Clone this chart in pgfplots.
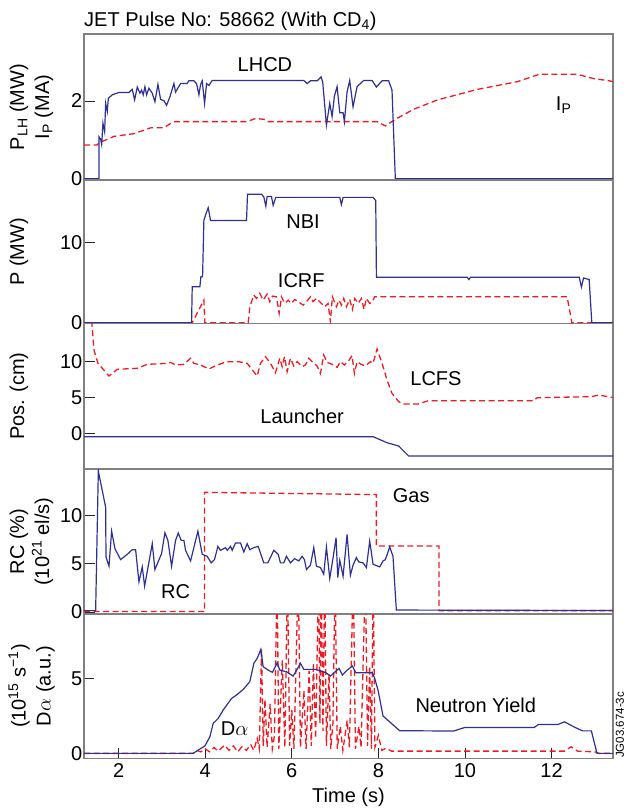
\documentclass[border=0pt]{standalone}
\usepackage{fontspec}
\setmainfont{Liberation Sans}
\usepackage{pgfplots}
\pgfplotsset{compat=1.18}
\definecolor{nblue}{RGB}{46,49,146}
\definecolor{nred}{RGB}{237,28,36}
\pgfplotsset{
 panel/.style={scale only axis, width=529pt, xmin=1.2, xmax=13.42, anchor=north west,
   axis line style={draw=black!50, line width=1.1pt}, tick align=inside, tick pos=left,
   xtick=\empty, major tick length=11pt, tick style={black!85, line width=0.9pt},
   /pgf/number format/assume math mode=true, yticklabel style={inner xsep=1.5pt},
   ylabel style={at={(axis description cs:-0.1229,0.5)}, anchor=center, align=center}},
 two/.style={ylabel style={at={(axis description cs:-0.0992,0.5)}}},
 bl/.style={nblue, line width=1.2pt},
 rd/.style={nred, line width=1.3pt, dash pattern=on 6pt off 3.5pt},
}
\begin{document}
\begin{tikzpicture}[font=\fontsize{20}{25}\selectfont]
\path[use as bounding box] (0pt,0pt) rectangle (625pt,-810pt);
% Panel 1
\begin{axis}[panel, two, at={(84pt,-34pt)}, height=146pt, ymin=-0.033, ymax=3.725, ytick={0,2},
  ylabel={P\textsubscript{LH} (MW)\\I\textsubscript{P} (MA)}]
\addplot[rd] coordinates {(1.2,0.87) (1.5,0.87) (1.546,0.92) (1.662,0.98) (1.777,1.03) (1.892,1.09) (2.354,1.16) (2.585,1.25) (2.738,1.31) (3.046,1.31) (3.238,1.45) (3.315,1.47) (4.969,1.47) (5.162,1.55) (5.354,1.53) (5.431,1.47) (7.969,1.47) (8.162,1.36) (8.392,1.53) (8.82,1.79) (9.37,2.03) (10.29,2.30) (11.22,2.50) (11.72,2.69) (12.59,2.69) (12.96,2.58) (13.33,2.52) (13.42,2.50)};
\addplot[bl] coordinates {(1.2,0) (1.546,0) (1.546,1.08) (1.585,1.01) (1.608,0.88) (1.638,1.43) (1.677,1.21) (1.70,1.94) (1.738,1.73) (1.762,2.07) (1.854,2.16) (2.008,2.22) (2.238,2.22) (2.315,2.30) (2.369,2.03) (2.431,2.36) (2.492,2.20) (2.531,2.28) (2.569,2.16) (2.608,2.37) (2.646,2.16) (2.70,2.33) (2.777,2.20) (2.838,1.98) (2.908,2.43) (2.969,2.04) (3.046,2.01) (3.108,1.89) (3.185,2.11) (3.277,2.45) (3.315,2.23) (3.431,2.45) (3.585,2.45) (3.623,2.52) (3.738,2.52) (3.80,2.45) (3.854,2.16) (3.892,2.42) (3.931,2.52) (3.985,1.94) (4.031,2.45) (4.085,2.40) (4.162,2.53) (6.277,2.53) (6.354,2.45) (6.431,2.52) (6.585,2.52) (6.677,2.62) (6.715,2.48) (6.80,1.38) (6.877,1.94) (6.931,1.60) (6.985,2.13) (7.046,2.37) (7.108,1.70) (7.185,1.70) (7.215,1.47) (7.277,2.23) (7.338,2.53) (7.415,1.85) (7.508,2.37) (7.662,2.53) (7.854,2.53) (7.954,2.36) (8.085,2.52) (8.238,2.52) (8.315,2.28) (8.392,0) (13.42,0)};
\node at (axis cs:5.38,2.93) {LHCD};
\node at (axis cs:12.28,1.9) {I\textsubscript{P}};
\end{axis}
% Panel 2
\begin{axis}[panel, at={(84pt,-180pt)}, height=143.5pt, ymin=-0.1, ymax=17.875, ytick={0,10},
  ylabel={P (MW)}]
\addplot[rd] coordinates {(1.2,0) (3.70,0) (3.969,2.83) (3.992,0) (4.992,0) (5.031,2.0) (5.123,3.46) (5.185,3.04) (5.262,3.67) (5.338,2.83) (5.431,3.58) (5.492,2.63) (5.554,3.33) (5.646,3.25) (5.708,1.17) (5.762,3.25) (5.838,2.42) (5.915,2.83) (5.992,2.42) (6.069,2.92) (6.146,2.63) (6.262,2.21) (6.338,2.63) (6.431,3.25) (6.492,2.63) (6.569,3.04) (6.685,2.42) (6.762,2.0) (6.838,2.42) (6.892,0.125) (6.938,3.25) (7.031,2.0) (7.092,2.83) (7.146,2.21) (7.2,3.04) (7.262,2.0) (7.338,2.92) (7.4,1.67) (7.454,3.04) (7.531,2.42) (7.608,3.04) (7.669,1.67) (7.723,3.04) (7.8,2.42) (7.862,2.63) (7.915,3.25) (12.36,3.25) (12.47,0) (13.42,0)};
\addplot[bl] coordinates {(1.2,0) (3.685,0) (3.70,4.5) (3.877,4.5) (3.90,5.75) (3.939,5.75) (3.969,12.8) (4.015,13.6) (4.069,14.4) (4.123,12.8) (4.954,12.8) (4.977,16.1) (5.30,16.1) (5.354,15.75) (5.40,14.6) (5.431,15.8) (5.531,15.8) (5.569,14.7) (5.631,15.7) (7.108,15.7) (7.146,14.8) (7.185,15.7) (7.877,15.7) (7.939,15.3) (7.955,5.7) (10.05,5.7) (10.09,5.4) (10.13,5.7) (12.64,5.7) (12.69,4.46) (12.74,5.6) (12.87,5.4) (12.93,0) (13.42,0)};
\node at (axis cs:6.26,12.6) {NBI};
\node at (axis cs:6.22,5.3) {ICRF};
\end{axis}
% Panel 3
\begin{axis}[panel, at={(84pt,-323.5pt)}, height=145.5pt, ymin=-4.9, ymax=15.3, ytick={0,5,10},
  ylabel={Pos. (cm)}]
\addplot[rd] coordinates {(1.36,17) (1.431,11.6) (1.523,9.77) (1.623,9.08) (1.777,8.01) (1.969,8.94) (2.431,9.08) (2.662,9.63) (3.123,9.77) (3.2,9.9) (3.315,9.54) (3.508,9.63) (3.662,10.47) (3.738,9.77) (3.892,9.54) (4.085,8.98) (4.277,9.54) (4.508,10.0) (4.777,10.0) (4.969,9.77) (5.2,8.01) (5.277,9.77) (5.392,10.7) (5.508,9.77) (5.623,8.47) (5.723,10.47) (5.777,9.31) (5.831,10.7) (5.892,8.61) (5.969,10.47) (6.046,9.4) (6.123,10.0) (6.238,9.31) (6.315,9.54) (6.392,10.47) (6.508,9.77) (6.585,9.4) (6.662,8.38) (6.738,10.93) (6.815,9.9) (6.931,9.63) (7.046,9.21) (7.123,10.0) (7.215,9.54) (7.315,10.14) (7.392,10.84) (7.446,8.38) (7.508,10.0) (7.6,9.63) (7.7,9.4) (7.815,10.0) (7.877,9.77) (7.969,11.76) (8.085,9.77) (8.2,7.46) (8.315,5.6) (8.469,4.45) (8.585,4.12) (8.92,4.12) (9.15,4.58) (11.58,4.58) (11.67,5.0) (12.91,5.14) (13.1,5.37) (13.38,5.05) (13.42,5.05)};
\addplot[bl] coordinates {(1.2,-0.41) (7.877,-0.41) (8.2,-1.25) (8.469,-1.71) (8.7,-3.1) (13.42,-3.1)};
\node at (axis cs:9.33,7.7) {LCFS};
\node at (axis cs:6.24,2.36) {Launcher};
\end{axis}
% Panel 4
\begin{axis}[panel, two, at={(84pt,-469pt)}, height=145pt, ymin=-0.21, ymax=14.82, ytick={0,5,10},
  ylabel={RC (\%)\\(10\textsuperscript{21} el/s)}]
\addplot[rd] coordinates {(1.2,0.05) (3.985,0.05) (3.985,12.4) (7.954,12.17) (7.954,6.84) (9.40,6.84) (9.40,0.14) (13.42,0.14)};
\addplot[bl] coordinates {(1.2,0.14) (1.469,0.14) (1.531,14.6) (1.70,10.86) (1.708,5.70) (1.777,4.74) (1.838,8.38) (1.915,6.56) (2.046,5.43) (2.2,5.98) (2.315,6.46) (2.392,6.46) (2.469,3.13) (2.546,4.67) (2.6,2.68) (2.777,7.08) (2.838,4.4) (2.992,6.05) (3.069,8.21) (3.138,7.42) (3.223,4.74) (3.315,7.42) (3.377,8.18) (3.446,7.42) (3.508,7.42) (3.546,6.39) (3.662,5.29) (3.831,8.38) (3.931,5.98) (4.046,5.77) (4.138,5.09) (4.215,5.43) (4.292,6.8) (4.354,6.39) (4.469,6.67) (4.508,6.39) (4.585,6.8) (4.623,6.39) (4.7,7.15) (4.815,7.15) (4.892,6.22) (4.969,7.08) (5.031,6.46) (5.123,6.67) (5.223,6.8) (5.354,5.09) (5.446,5.09) (5.585,6.39) (5.685,5.98) (5.738,5.09) (5.815,5.09) (5.877,5.77) (5.969,5.09) (6.062,5.53) (6.162,5.29) (6.238,5.77) (6.292,5.43) (6.338,4.4) (6.431,4.85) (6.508,6.67) (6.569,4.74) (6.662,4.6) (6.738,3.92) (6.8,6.74) (6.877,3.47) (6.954,5.64) (7.023,7.7) (7.062,3.57) (7.108,5.36) (7.185,3.71) (7.277,8.04) (7.354,3.81) (7.415,4.85) (7.492,5.64) (7.546,5.19) (7.646,5.09) (7.723,4.6) (7.8,7.35) (7.877,4.95) (8.031,4.67) (8.108,5.29) (8.162,5.43) (8.262,6.74) (8.338,5.77) (8.415,0.2) (13.42,0.15)};
\node at (axis cs:3.315,2.1) {RC};
\node at (axis cs:8.76,12.1) {Gas};
\end{axis}
% Panel 5
\begin{axis}[panel, two, at={(84pt,-614pt)}, height=144.3pt, ymin=-0.33, ymax=9.29, ytick={0,5},
  xtick={2,4,6,8,10,12}, major tick length=10pt,
  xticklabel style={yshift=-2pt},
  xlabel={Time (s)}, xlabel style={at={(axis description cs:0.5,0)}, anchor=base, yshift=-44pt},
  ylabel={(10\textsuperscript{15} s\textsuperscript{−1})\\D$\alpha$ (a.u.)}]
\addplot[rd] coordinates {(1.2,0) (3.72,0) (3.8,0.2) (3.9,0.1) (4.0,0.3) (4.1,0.1) (4.2,0.4) (4.3,0.15) (4.45,0.55) (4.55,0.2) (4.65,0.5) (4.75,0.1) (4.85,0.45) (4.95,0.2) (5.05,0.6) (5.12,0.2) (5.2,1.0) (5.25,0.3) (5.3,7.0) (5.34,0.5) (5.38,3.6) (5.43,0.4) (5.5,3.3) (5.55,0.3) (5.6,1.2) (5.66,12) (5.7,0.3) (5.78,6.2) (5.84,0.4) (5.9,12) (5.95,0.5) (6.0,2.9) (6.05,0.3) (6.15,12) (6.2,0.4) (6.28,4.2) (6.33,0.3) (6.4,5.5) (6.45,0.5) (6.5,6.0) (6.55,1.0) (6.62,12) (6.65,2) (6.68,12) (6.72,1.5) (6.76,12) (6.8,0.5) (6.86,5.3) (6.9,0.3) (6.95,2.0) (7.0,12) (7.05,0.3) (7.12,1.8) (7.18,0.2) (7.28,2.2) (7.33,0.4) (7.42,12) (7.47,0.3) (7.55,1.8) (7.6,0.4) (7.7,12) (7.75,0.5) (7.8,5.8) (7.84,0.3) (7.88,12) (7.92,0.4) (8.0,1.2) (8.08,0.2) (8.18,0.35) (8.3,0.15) (12.3,0.15) (12.45,0.44) (12.6,0.15) (13.0,0.1) (13.1,0) (13.42,0)};
\addplot[bl] coordinates {(1.2,0) (3.723,0) (3.838,0.22) (3.992,0.49) (4.108,1.11) (4.185,2.0) (4.3,2.33) (4.415,2.89) (4.608,3.66) (4.723,3.89) (4.877,4.26) (5.031,4.78) (5.123,6.0) (5.2,6.33) (5.285,6.93) (5.338,5.78) (5.454,5.55) (5.554,5.4) (5.662,6.04) (5.723,5.55) (5.877,5.44) (6.031,5.15) (6.123,5.6) (6.2,6.0) (6.277,5.6) (6.531,5.6) (6.646,5.51) (6.785,5.38) (6.892,5.15) (7.031,5.51) (7.092,5.66) (7.169,5.22) (7.262,5.51) (7.4,5.82) (7.477,5.38) (7.862,5.38) (7.915,5.0) (7.992,4.22) (8.108,2.49) (8.3,2.0) (8.492,1.51) (9.74,1.49) (10.0,1.73) (11.6,1.73) (11.7,1.93) (12.15,1.93) (12.3,2.1) (12.55,1.72) (12.72,1.5) (12.92,1.5) (13.05,0) (13.42,0)};
\node at (axis cs:4.68,1.67) {D$\alpha$};
\node at (axis cs:10.25,3.22) {Neutron Yield};
\end{axis}
\node[anchor=base west, inner sep=0pt] at (84pt,-26.7pt) {JET Pulse No: 58662 (With CD\textsubscript{4})};
\node[rotate=90, anchor=west, inner sep=0pt, font=\fontsize{11.5}{13}\selectfont] at (620pt,-758pt) {JG03.674-3c};
\end{tikzpicture}
\end{document}
